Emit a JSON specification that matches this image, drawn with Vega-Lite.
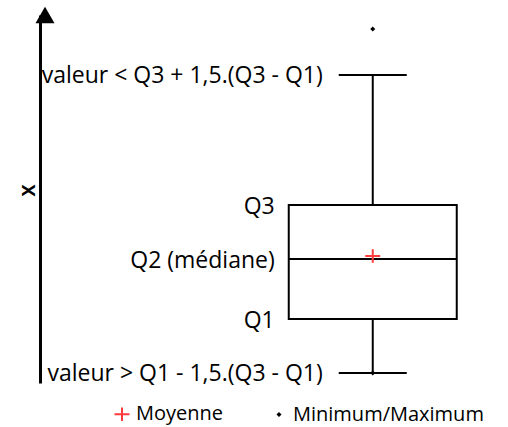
{
  "$schema": "https://vega.github.io/schema/vega-lite/v6.json",
  "width": 447,
  "height": 368,
  "autosize": {"type": "none"},
  "padding": {"left": 40, "top": 15, "right": 21, "bottom": 44},
  "background": "white",
  "config": {
    "view": {"stroke": null},
    "font": "Open Sans",
    "axisY": {
      "labels": false,
      "ticks": false,
      "grid": false,
      "domainColor": "black",
      "domainWidth": 3,
      "titleColor": "black",
      "titleFont": "Open Sans",
      "titleFontWeight": "bold",
      "titleFontSize": 18,
      "titlePadding": 2,
      "titleY": 175
    }
  },
  "datasets": {
    "stats": [
      {"variable": "X", "borne_basse": 2.7, "q1": 17.4, "mediane": 33.7, "q3": 48.4, "borne_haute": 83.7}
    ],
    "points": [
      {"variable": "X", "stat": "Moyenne", "valeur": 34.5},
      {"variable": "X", "stat": "Minimum/Maximum", "valeur": 96.2},
      {"variable": "X", "stat": "Minimum/Maximum", "valeur": 2.7}
    ],
    "labels_q": [
      {"label": "Q3", "valeur": 48.4},
      {"label": "Q2 (médiane)", "valeur": 33.7},
      {"label": "Q1", "valeur": 17.4}
    ],
    "labels_w": [
      {"label": "valeur < Q3 + 1,5.(Q3 - Q1)", "valeur": 83.7},
      {"label": "valeur > Q1 - 1,5.(Q3 - Q1)", "valeur": 2.7}
    ],
    "axe": [
      {"valeur": 100}
    ]
  },
  "encoding": {
    "x": {"datum": 3, "type": "quantitative", "scale": {"domain": [0, 4], "nice": false, "zero": false}, "axis": null}
  },
  "layer": [
    {
      "data": {"name": "stats"},
      "mark": {"type": "rule", "color": "black", "strokeWidth": 2},
      "encoding": {
        "y": {"field": "borne_basse", "type": "quantitative", "title": "X", "scale": {"domain": [0, 100], "nice": false, "zero": false}},
        "y2": {"field": "q1"}
      }
    },
    {
      "data": {"name": "stats"},
      "mark": {"type": "rule", "color": "black", "strokeWidth": 2},
      "encoding": {
        "y": {"field": "q3", "type": "quantitative", "title": "X"},
        "y2": {"field": "borne_haute"}
      }
    },
    {
      "data": {"name": "stats"},
      "mark": {"type": "bar", "fill": "white", "stroke": "black", "strokeWidth": 2, "size": 168},
      "encoding": {
        "y": {"field": "q1", "type": "quantitative", "title": "X"},
        "y2": {"field": "q3"}
      }
    },
    {
      "data": {"name": "stats"},
      "mark": {"type": "tick", "orient": "horizontal", "color": "black", "thickness": 2, "size": 168, "opacity": 1},
      "encoding": {
        "y": {"field": "mediane", "type": "quantitative", "title": "X"}
      }
    },
    {
      "data": {"name": "stats"},
      "mark": {"type": "tick", "orient": "horizontal", "color": "black", "thickness": 2, "size": 68, "opacity": 1},
      "encoding": {
        "y": {"field": "borne_haute", "type": "quantitative", "title": "X"}
      }
    },
    {
      "data": {"name": "stats"},
      "mark": {"type": "tick", "orient": "horizontal", "color": "black", "thickness": 2, "size": 68, "opacity": 1},
      "encoding": {
        "y": {"field": "borne_basse", "type": "quantitative", "title": "X"}
      }
    },
    {
      "data": {"name": "points"},
      "mark": {"type": "point", "filled": false, "strokeWidth": 2, "size": 225, "opacity": 1},
      "encoding": {
        "y": {"field": "valeur", "type": "quantitative", "title": "X"},
        "shape": {
          "field": "stat", "type": "nominal",
          "scale": {"domain": ["Moyenne", "Minimum/Maximum"], "range": ["M-1,0L1,0M0,-0.9L0,0.9", "M0,-0.15L0.15,0L0,0.15L-0.15,0Z"]},
          "legend": {
            "title": null,
            "orient": "none",
            "direction": "horizontal",
            "legendX": 72,
            "legendY": 389,
            "labelFont": "Open Sans",
            "labelFontSize": 20,
            "labelColor": "black",
            "labelLimit": 400,
            "labelOffset": 4,
            "columnPadding": 45,
            "symbolSize": 225,
            "symbolStrokeWidth": 2
          }
        },
        "color": {
          "field": "stat", "type": "nominal",
          "scale": {"domain": ["Moyenne", "Minimum/Maximum"], "range": ["#ff3a3a", "black"]},
          "legend": {
            "title": null,
            "orient": "none",
            "direction": "horizontal",
            "legendX": 72,
            "legendY": 389,
            "labelFont": "Open Sans",
            "labelFontSize": 20,
            "labelColor": "black",
            "labelLimit": 400,
            "labelOffset": 4,
            "columnPadding": 45,
            "symbolSize": 225,
            "symbolStrokeWidth": 2
          }
        }
      }
    },
    {
      "data": {"name": "labels_q"},
      "mark": {"type": "text", "align": "right", "baseline": "middle", "dx": -98, "dy": 2, "fontSize": 23, "font": "Open Sans", "color": "black"},
      "encoding": {
        "y": {"field": "valeur", "type": "quantitative", "title": "X"},
        "text": {"field": "label"}
      }
    },
    {
      "data": {"name": "labels_w"},
      "mark": {"type": "text", "align": "right", "baseline": "middle", "dx": -50, "dy": 1, "fontSize": 23, "font": "Open Sans", "color": "black"},
      "encoding": {
        "y": {"field": "valeur", "type": "quantitative", "title": "X"},
        "text": {"field": "label"}
      }
    },
    {
      "data": {"name": "axe"},
      "mark": {"type": "point", "shape": "triangle-up", "filled": true, "color": "black", "size": 361, "opacity": 1},
      "encoding": {
        "x": {"datum": 0, "type": "quantitative"},
        "y": {"field": "valeur", "type": "quantitative", "title": "X"}
      }
    }
  ]
}
